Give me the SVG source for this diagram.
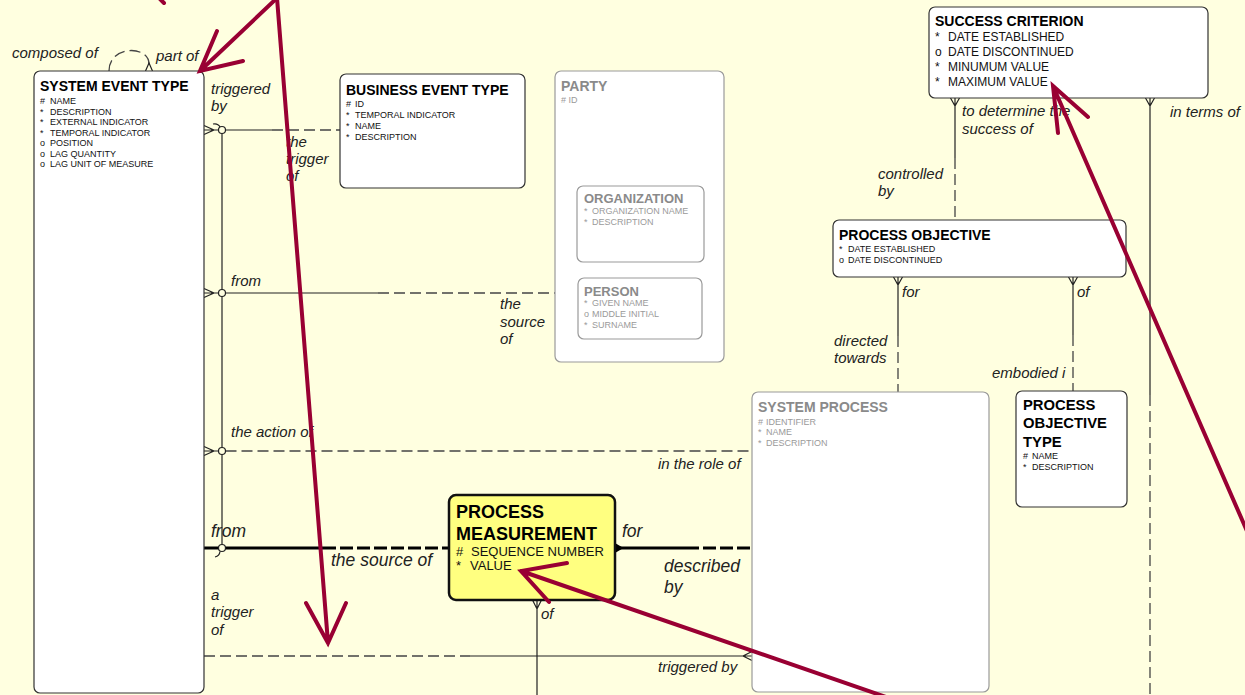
<svg xmlns="http://www.w3.org/2000/svg" width="1245" height="695" viewBox="0 0 1245 695">
<style>
.box{fill:#fff;stroke:#333;stroke-width:1.2}
.gbox{fill:#fff;stroke:#9a9a9a;stroke-width:1.2}
.ybox{fill:#ffff80;stroke:#111;stroke-width:2.5}
text{font-family:"Liberation Sans",Arial,sans-serif}
.t{font-weight:bold;font-size:14px;fill:#000}
.gt{font-weight:bold;font-size:14px;fill:#8a8a8a}
.a{font-size:9px;fill:#111}
.ga{font-size:9px;fill:#9a9a9a}
.a12{font-size:12px;fill:#111}
.l{font-style:italic;font-size:15px;fill:#222}
.L{font-style:italic;font-size:17.5px;fill:#222}
.s{stroke:#222;stroke-width:1.2;fill:none}
.d{stroke:#444;stroke-width:1.3;fill:none;stroke-dasharray:11 5}
.S{stroke:#000;stroke-width:3;fill:none}
.D{stroke:#000;stroke-width:3;fill:none;stroke-dasharray:13 4}
.c{fill:#ffffe0;stroke:#222;stroke-width:1.2}
.red{stroke:#990033;stroke-width:4;stroke-linecap:round;fill:none}
</style>
<rect width="1245" height="695" fill="#ffffe0"/>

<g id="connectors">
  <path class="d" d="M109,71 C109,45 149,45 149,64" stroke-dasharray="6 4"/>
  <path class="s" d="M145.5,71 L149,63 L152.5,71"/>
  <path class="s" d="M222,130 V548"/>
  <path class="s" d="M204,125.5 L214,130 L204,134.5 M204,130 H218.5 M225.5,130 H272"/>
  <path class="d" d="M272,130 H340"/>
  <circle class="c" cx="222" cy="130" r="3.5"/>
  <path class="s" d="M213,124 Q218,123 220,127"/>
  <path class="s" d="M204,288.5 L214,293 L204,297.5 M204,293 H218.5 M225.5,293 H378"/>
  <path class="d" d="M378,293 H555"/>
  <circle class="c" cx="222" cy="293" r="3.5"/>
  <path class="s" d="M204,446.5 L214,451 L204,455.5 M204,451 H218.5"/>
  <path class="d" d="M225.5,451 H752" stroke-dasharray="10 5"/>
  <circle class="c" cx="222" cy="451" r="3.5"/>
  <path class="S" d="M204,548 H323"/>
  <path class="D" d="M323,548 H449"/>
  <circle class="c" cx="222" cy="548" r="3.5"/>
  <path class="s" d="M220,551.5 Q219.5,556 215,557"/>
  <path d="M615,543 L623.5,548 L615,553 Z" fill="#000"/>
  <path class="S" d="M615,548 H686"/>
  <path class="D" d="M686,548 H752"/>
  <path class="d" d="M204,656 H470" stroke-dasharray="10 5"/>
  <path class="s" d="M470,656 H752 M752,651.5 L743,656 L752,660.5"/>
  <path class="s" d="M537,600 V695 M532.5,600 L537,609 L541.5,600"/>
  <path class="s" d="M955,98 V158 M950.5,98 L955,106 L959.5,98"/>
  <path class="d" d="M955,158 V220"/>
  <path class="s" d="M1150,98 V395 M1145.5,98 L1150,106 L1154.5,98"/>
  <path class="d" d="M1150,395 V695"/>
  <path class="s" d="M898,277 V336 M893.5,277 L898,285 L902.5,277"/>
  <path class="d" d="M898,336 V392"/>
  <path class="s" d="M1073,277 V335 M1068.5,277 L1073,285 L1077.5,277"/>
  <path class="d" d="M1073,335 V391"/>
</g>

<g id="labels">
  <text class="l" x="12" y="58">composed of</text>
  <text class="l" x="156" y="61">part of</text>
  <text class="l" x="211" y="94">triggered</text>
  <text class="l" x="211" y="111">by</text>
  <text class="l" x="286" y="147">the</text>
  <text class="l" x="286" y="164">trigger</text>
  <text class="l" x="286" y="181">of</text>
  <text class="l" x="231" y="286">from</text>
  <text class="l" x="500" y="309">the</text>
  <text class="l" x="500" y="327">source</text>
  <text class="l" x="500" y="344">of</text>
  <text class="l" x="231" y="437">the action of</text>
  <text class="l" x="658" y="469">in the role of</text>
  <text class="L" x="211" y="537">from</text>
  <text class="L" x="331" y="566">the source of</text>
  <text class="L" x="622" y="537">for</text>
  <text class="L" x="664" y="572">described</text>
  <text class="L" x="664" y="593">by</text>
  <text class="l" x="211" y="600">a</text>
  <text class="l" x="211" y="617">trigger</text>
  <text class="l" x="211" y="635">of</text>
  <text class="l" x="658" y="672">triggered by</text>
  <text class="l" x="541" y="619">of</text>
  <text class="l" x="962" y="116">to determine the</text>
  <text class="l" x="962" y="134">success of</text>
  <text class="l" x="1170" y="117">in terms of</text>
  <text class="l" x="878" y="179">controlled</text>
  <text class="l" x="878" y="196">by</text>
  <text class="l" x="902" y="297">for</text>
  <text class="l" x="1077" y="297">of</text>
  <text class="l" x="834" y="346">directed</text>
  <text class="l" x="834" y="363">towards</text>
  <text class="l" x="992" y="378">embodied i</text>
</g>

<g id="system-event-type">
  <rect class="box" x="34" y="71" width="170" height="622" rx="6"/>
  <text class="t" x="40" y="91">SYSTEM EVENT TYPE</text>
  <text class="a" x="40" y="104">#</text><text class="a" x="50" y="104">NAME</text>
  <text class="a" x="40" y="114.5">*</text><text class="a" x="50" y="114.5">DESCRIPTION</text>
  <text class="a" x="40" y="125">*</text><text class="a" x="50" y="125">EXTERNAL INDICATOR</text>
  <text class="a" x="40" y="135.5">*</text><text class="a" x="50" y="135.5">TEMPORAL INDICATOR</text>
  <text class="a" x="40" y="146">o</text><text class="a" x="50" y="146">POSITION</text>
  <text class="a" x="40" y="156.5">o</text><text class="a" x="50" y="156.5">LAG QUANTITY</text>
  <text class="a" x="40" y="167">o</text><text class="a" x="50" y="167">LAG UNIT OF MEASURE</text>
</g>

<g id="business-event-type">
  <rect class="box" x="340" y="74" width="185" height="114" rx="6"/>
  <text class="t" x="346" y="95">BUSINESS EVENT TYPE</text>
  <text class="a" x="346" y="107">#</text><text class="a" x="355" y="107">ID</text>
  <text class="a" x="346" y="118">*</text><text class="a" x="355" y="118">TEMPORAL INDICATOR</text>
  <text class="a" x="346" y="129">*</text><text class="a" x="355" y="129">NAME</text>
  <text class="a" x="346" y="140">*</text><text class="a" x="355" y="140">DESCRIPTION</text>
</g>

<g id="party">
  <rect class="gbox" x="555" y="71" width="169" height="291" rx="6"/>
  <text class="gt" x="561" y="91" font-size="14.5">PARTY</text>
  <text class="ga" x="561" y="103"># ID</text>
</g>
<g id="organization">
  <rect class="gbox" x="577" y="186" width="127" height="76" rx="6"/>
  <text class="gt" x="584" y="203" style="font-size:13px">ORGANIZATION</text>
  <text class="ga" x="584" y="214">*</text><text class="ga" x="592" y="214">ORGANIZATION NAME</text>
  <text class="ga" x="584" y="225">*</text><text class="ga" x="592" y="225">DESCRIPTION</text>
</g>
<g id="person">
  <rect class="gbox" x="578" y="278" width="124" height="61" rx="6"/>
  <text class="gt" x="584" y="296" style="font-size:13px">PERSON</text>
  <text class="ga" x="584" y="306">*</text><text class="ga" x="592" y="306">GIVEN NAME</text>
  <text class="ga" x="584" y="317">o</text><text class="ga" x="592" y="317">MIDDLE INITIAL</text>
  <text class="ga" x="584" y="328">*</text><text class="ga" x="592" y="328">SURNAME</text>
</g>

<g id="success-criterion">
  <rect class="box" x="929" y="7" width="279" height="91" rx="6"/>
  <text class="t" x="935" y="26">SUCCESS CRITERION</text>
  <text class="a12" x="935" y="41">*</text><text class="a12" x="948" y="41">DATE ESTABLISHED</text>
  <text class="a12" x="935" y="56">o</text><text class="a12" x="948" y="56">DATE DISCONTINUED</text>
  <text class="a12" x="935" y="71">*</text><text class="a12" x="948" y="71">MINUMUM VALUE</text>
  <text class="a12" x="935" y="86">*</text><text class="a12" x="948" y="86">MAXIMUM VALUE</text>
</g>

<g id="process-objective">
  <rect class="box" x="833" y="220" width="293" height="57" rx="6"/>
  <text class="t" x="839" y="240">PROCESS OBJECTIVE</text>
  <text class="a" x="839" y="252">*</text><text class="a" x="848" y="252">DATE ESTABLISHED</text>
  <text class="a" x="839" y="263">o</text><text class="a" x="848" y="263">DATE DISCONTINUED</text>
</g>

<g id="system-process">
  <rect class="gbox" x="752" y="392" width="237" height="300" rx="6"/>
  <text class="gt" x="758" y="412">SYSTEM PROCESS</text>
  <text class="ga" x="758" y="425">#</text><text class="ga" x="766" y="425">IDENTIFIER</text>
  <text class="ga" x="758" y="435">*</text><text class="ga" x="766" y="435">NAME</text>
  <text class="ga" x="758" y="446">*</text><text class="ga" x="766" y="446">DESCRIPTION</text>
</g>

<g id="process-objective-type">
  <rect class="box" x="1016" y="391" width="111" height="116" rx="6"/>
  <text class="t" x="1023" y="410" style="font-size:14.8px">PROCESS</text>
  <text class="t" x="1023" y="428" style="font-size:14.8px">OBJECTIVE</text>
  <text class="t" x="1023" y="447" style="font-size:14.8px">TYPE</text>
  <text class="a" x="1023" y="459">#</text><text class="a" x="1032" y="459">NAME</text>
  <text class="a" x="1023" y="470">*</text><text class="a" x="1032" y="470">DESCRIPTION</text>
</g>

<g id="process-measurement">
  <rect class="ybox" x="449" y="495" width="166" height="105" rx="7"/>
  <text class="t" x="456" y="518" style="font-size:18px">PROCESS</text>
  <text class="t" x="456" y="540" style="font-size:18px">MEASUREMENT</text>
  <text class="a12" x="456" y="556" style="font-size:13px">#</text><text class="a12" x="471" y="556" style="font-size:13px">SEQUENCE NUMBER</text>
  <text class="a12" x="456" y="570" style="font-size:13px">*</text><text class="a12" x="470" y="570" style="font-size:13px">VALUE</text>
</g>

<g id="annotations">
  <path class="red" d="M158,-3 L164,3"/>
  <path class="red" d="M277,-2 L200,71 M217,31 L200,71 L243,61"/>
  <path class="red" d="M277,-2 L328,643 M306,603 L328,643 L346,603"/>
  <path class="red" d="M886,697 L521,571 M567,563 L521,571 L549,602"/>
  <path class="red" d="M1250,538 L1053,86 M1088,117 L1053,86 L1058,133"/>
</g>
</svg>
